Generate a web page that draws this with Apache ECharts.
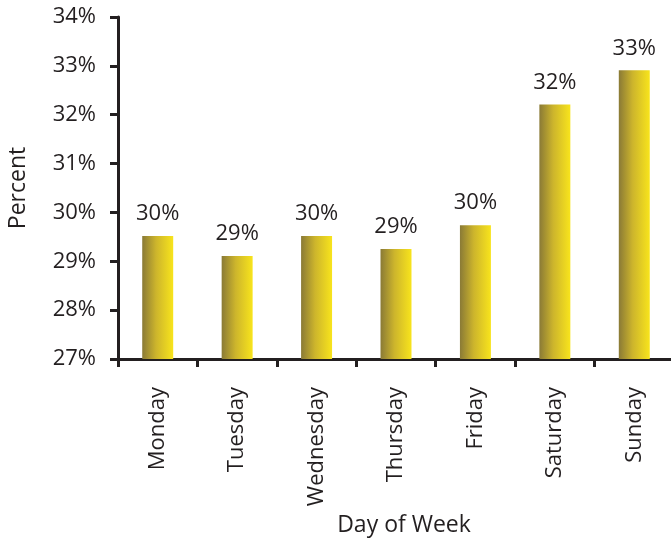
<!DOCTYPE html>
<html>
<head>
<meta charset="utf-8">
<script src="https://cdn.jsdelivr.net/npm/echarts@6/dist/echarts.min.js"></script>
<style>
  html, body { margin: 0; padding: 0; background: #fff; }
  #chart { width: 671px; height: 539px; }
</style>
</head>
<body>
<div id="chart"></div>
<script>
// days and percent values
var days = ['Monday', 'Tuesday', 'Wednesday', 'Thursday', 'Friday', 'Saturday', 'Sunday'];
var percents = [29.52, 29.11, 29.52, 29.25, 29.74, 32.21, 32.91];
var yTicks = [27, 28, 29, 30, 31, 32, 33, 34];

var font = '"Open Sans", "Noto Sans", sans-serif';
var ink = '#231f20';

var chart = echarts.init(document.getElementById('chart'));

var barColor = new echarts.graphic.LinearGradient(0, 0, 1, 0, [
    {offset: 0, color: '#8a7a36'},
    {offset: 0.45, color: '#cdb52c'},
    {offset: 1, color: '#f8e41c'}
]);

chart.setOption({
    animation: false,
    grid: {
        left: 118,
        top: 17,
        width: 556,
        height: 342,
        containLabel: false,
        outerBoundsMode: 'none'
    },
    xAxis: {
        type: 'category',
        data: days,
        boundaryGap: true,
        name: 'Day of Week',
        nameLocation: 'middle',
        nameGap: 155,
        nameTextStyle: {fontFamily: font, fontSize: 23, color: ink, padding: [0, 0, 0, 16]},
        axisLine: {lineStyle: {color: ink, width: 3}},
        axisTick: {show: true, length: 8, lineStyle: {color: ink, width: 3}},
        axisLabel: {
            rotate: 90,
            margin: 28,
            fontFamily: font,
            fontSize: 22,
            color: ink
        },
        splitLine: {show: false}
    },
    yAxis: {
        type: 'value',
        min: yTicks[0],
        max: yTicks[yTicks.length - 1],
        interval: 1,
        name: 'Percent',
        nameLocation: 'middle',
        nameGap: 88,
        nameTextStyle: {fontFamily: font, fontSize: 23, color: ink},
        axisLine: {show: true, lineStyle: {color: ink, width: 3}},
        axisTick: {show: true, length: 8, lineStyle: {color: ink, width: 3}},
        axisLabel: {
            margin: 22,
            fontFamily: font,
            fontSize: 22,
            color: ink,
            formatter: function (v) { return v + '%'; }
        },
        splitLine: {show: false}
    },
    series: [{
        type: 'bar',
        data: percents,
        barWidth: '39%',
        itemStyle: {color: barColor},
        label: {
            show: true,
            position: 'top',
            distance: 11,
            fontFamily: font,
            fontSize: 22,
            color: ink,
            formatter: function (p) { return Math.round(p.value) + '%'; }
        }
    }]
});
</script>
</body>
</html>
